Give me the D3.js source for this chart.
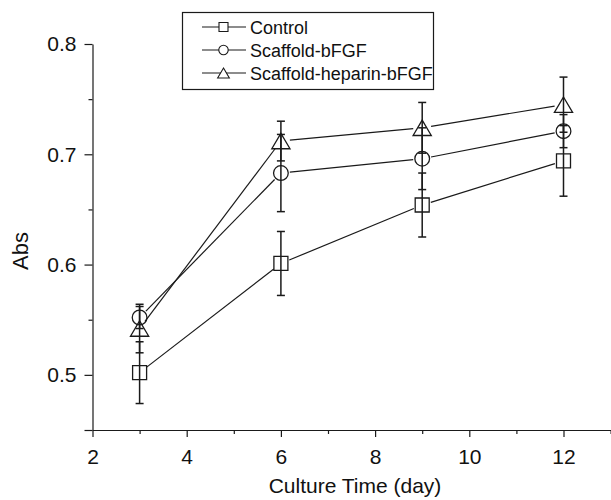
<!DOCTYPE html>
<html lang="en">
	<head>
		<meta charset="utf-8">
		<title>D3: culture time vs abs</title>
		<script type="text/javascript" src="https://cdn.jsdelivr.net/npm/d3@7"></script>
		<style type="text/css">
			body { margin: 0; background: #fff; }
			text { font-family: "Liberation Sans", Arial, sans-serif; fill: #111; }
		</style>
	</head>
	<body>
		<script type="text/javascript">

			//Width and height
			var w = 611;
			var h = 500;

			//data
			var days = [3, 6, 9, 12];
			var seriesNames = ["Control", "Scaffold-bFGF", "Scaffold-heparin-bFGF"];
			var controlMean = [0.502, 0.601, 0.654, 0.694];
			var controlErr = [0.028, 0.029, 0.029, 0.032];
			var bfgfMean = [0.552, 0.683, 0.696, 0.721];
			var bfgfErr = [0.010, 0.035, 0.028, 0.015];
			var heparinMean = [0.542, 0.712, 0.724, 0.745];
			var heparinErr = [0.022, 0.018, 0.023, 0.025];
			var xTicks = [2, 4, 6, 8, 10, 12];
			var yTicks = [0.5, 0.6, 0.7, 0.8];

			var series = [
				{ name: seriesNames[0], mean: controlMean, err: controlErr, shape: "square" },
				{ name: seriesNames[1], mean: bfgfMean, err: bfgfErr, shape: "circle" },
				{ name: seriesNames[2], mean: heparinMean, err: heparinErr, shape: "triangle" }
			];

			var ink = "#1a1a1a";

			var x = d3.scaleLinear().domain([2, 13]).range([92.5, 610.6]);
			var y = d3.scaleLinear().domain([0.45, 0.8]).range([430, 44]);

			var svg = d3.select("body")
						.append("svg")
						.attr("width", w)
						.attr("height", h);

			//marker path around 0,0
			function marker(shape, s) {
				if (shape === "square") {
					return "M" + (-s) + "," + (-s) + "h" + (2 * s) + "v" + (2 * s) + "h" + (-2 * s) + "Z";
				}
				if (shape === "circle") {
					return d3.arc()({ innerRadius: 0, outerRadius: s * 1.05, startAngle: 0, endAngle: 2 * Math.PI });
				}
				//triangle, apex up
				var tw = s * 1.3, th = s * 1.1;
				return "M0," + (-th) + "L" + tw + "," + th + "L" + (-tw) + "," + th + "Z";
			}

			//x axis, minor ticks at odd days
			var xAxis = svg.append("g")
				.attr("transform", "translate(0," + y(0.45) + ")")
				.call(d3.axisBottom(x)
					.tickValues(d3.range(2, 13.5, 1))
					.tickSize(7)
					.tickSizeOuter(0)
					.tickPadding(12)
					.tickFormat(function(d) { return xTicks.indexOf(d) >= 0 ? d : ""; }));
			xAxis.selectAll(".tick line")
				.attr("y2", function(d) { return d % 2 === 0 ? 7 : 4; });

			//y axis
			var yAxis = svg.append("g")
				.attr("transform", "translate(" + x(2) + ",0)")
				.call(d3.axisLeft(y)
					.tickValues([0.45, 0.5, 0.55, 0.6, 0.65, 0.7, 0.75, 0.8])
					.tickSize(8)
					.tickSizeOuter(0)
					.tickPadding(8)
					.tickFormat(function(d) { return yTicks.indexOf(Math.round(d * 100) / 100) >= 0 ? d3.format(".1f")(d) : ""; }));
			yAxis.selectAll(".tick line")
				.attr("x2", function(d) {
					var r = Math.round(d * 100);
					return (r % 10 === 0 || r === 45) ? -8 : -4;
				});

			svg.selectAll(".domain, .tick line").attr("stroke", ink).attr("stroke-width", 1.2);
			svg.selectAll(".tick text").style("font-size", "21px").attr("fill", "#111");

			//axis titles
			svg.append("text")
				.attr("x", 355)
				.attr("y", 493)
				.attr("text-anchor", "middle")
				.style("font-size", "21px")
				.text("Culture Time (day)");

			svg.append("text")
				.attr("transform", "translate(27.5,251) rotate(-90)")
				.attr("text-anchor", "middle")
				.style("font-size", "22px")
				.text("Abs");

			//connecting lines, stopped short of the markers
			var gap = 9;
			series.forEach(function(s) {
				for (var i = 0; i < days.length - 1; i++) {
					var x1 = x(days[i]), y1 = y(s.mean[i]);
					var x2 = x(days[i + 1]), y2 = y(s.mean[i + 1]);
					var len = Math.sqrt((x2 - x1) * (x2 - x1) + (y2 - y1) * (y2 - y1));
					var ux = (x2 - x1) / len, uy = (y2 - y1) / len;
					svg.append("line")
						.attr("x1", x1 + ux * gap).attr("y1", y1 + uy * gap)
						.attr("x2", x2 - ux * gap).attr("y2", y2 - uy * gap)
						.attr("stroke", ink)
						.attr("stroke-width", 1.2);
				}
			});

			//error bars
			series.forEach(function(s) {
				var g = svg.append("g").attr("stroke", ink).attr("stroke-width", 1.5);
				days.forEach(function(d, i) {
					var cx = x(d);
					var top = y(s.mean[i] + s.err[i]);
					var bot = y(s.mean[i] - s.err[i]);
					g.append("line").attr("x1", cx).attr("x2", cx).attr("y1", top).attr("y2", bot);
					g.append("line").attr("x1", cx - 4).attr("x2", cx + 4).attr("y1", top).attr("y2", top);
					g.append("line").attr("x1", cx - 4).attr("x2", cx + 4).attr("y1", bot).attr("y2", bot);
				});
			});

			//markers
			series.forEach(function(s) {
				svg.selectAll(null)
					.data(days)
					.enter()
					.append("path")
					.attr("d", marker(s.shape, 7))
					.attr("transform", function(d, i) { return "translate(" + x(d) + "," + y(s.mean[i]) + ")"; })
					.attr("fill", "none")
					.attr("stroke", ink)
					.attr("stroke-width", 1.3);
			});

			//legend
			var lg = svg.append("g");
			lg.append("rect")
				.attr("x", 182.5).attr("y", 12.5)
				.attr("width", 251).attr("height", 77)
				.attr("fill", "#fff")
				.attr("stroke", ink)
				.attr("stroke-width", 1.2);

			series.forEach(function(s, i) {
				var ly = 27 + i * 23;
				lg.append("line")
					.attr("x1", 202).attr("x2", 246)
					.attr("y1", ly).attr("y2", ly)
					.attr("stroke", ink).attr("stroke-width", 1.2);
				lg.append("path")
					.attr("d", marker(s.shape, 4.5))
					.attr("transform", "translate(223.5," + ly + ")")
					.attr("fill", "#fff")
					.attr("stroke", ink)
					.attr("stroke-width", 1.1);
				lg.append("text")
					.attr("x", 250)
					.attr("y", ly + 6.5)
					.style("font-size", "18px")
					.text(s.name);
			});

		</script>
	</body>
</html>
